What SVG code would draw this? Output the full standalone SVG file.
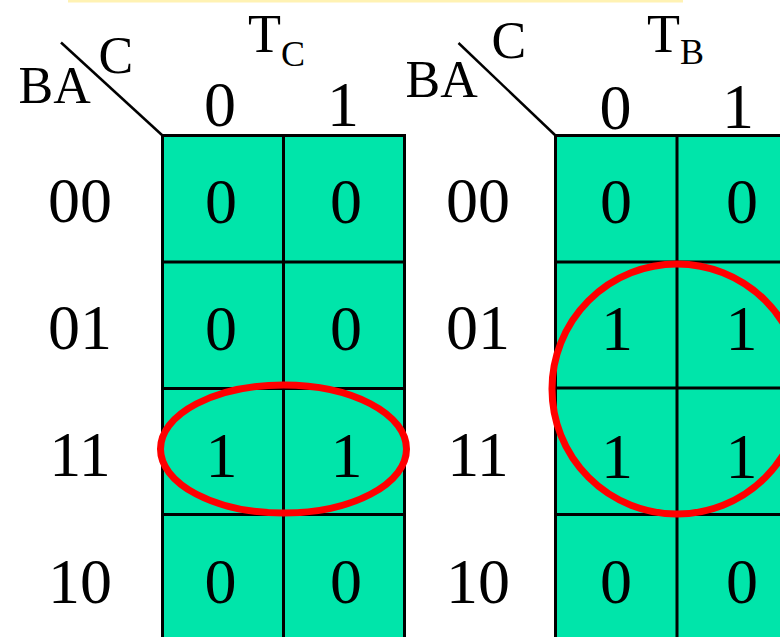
<svg xmlns="http://www.w3.org/2000/svg" width="780" height="637" viewBox="0 0 780 637">
<style>
.t{font-family:"Liberation Serif","Times New Roman",serif;fill:#000}
.big{font-size:64px;text-anchor:middle}
.hdr{font-size:52px}
.tt{font-size:54px}
.sub{font-size:36px}
.cell{fill:#00E5AA;stroke:#000;stroke-width:3}
.grid{stroke:#000;stroke-width:3;fill:none}
.diag{stroke:#000;stroke-width:2.5}
.loop{fill:none;stroke:#FF0000;stroke-width:7}
</style>
<rect x="0" y="0" width="780" height="637" fill="#fff"/>
<rect x="68" y="0" width="615" height="2.5" fill="#FFF2B3"/>
<g id="kmap-tc">
  <rect class="cell" x="162.5" y="135.5" width="242" height="520"/>
  <line class="grid" x1="283.5" y1="135.5" x2="283.5" y2="640"/>
  <line class="grid" x1="162.5" y1="262" x2="404.5" y2="262"/>
  <line class="grid" x1="162.5" y1="388.5" x2="404.5" y2="388.5"/>
  <line class="grid" x1="162.5" y1="514.5" x2="404.5" y2="514.5"/>
  <line class="diag" x1="61" y1="42.5" x2="162.5" y2="135.5"/>
  <text class="t hdr" x="18.5" y="103">BA</text>
  <text class="t hdr" x="98.5" y="72.5">C</text>
  <text class="t tt" x="248" y="52">T</text>
  <text class="t sub" x="281" y="65.5">C</text>
  <text class="t big" x="220" y="126">0</text>
  <text class="t big" x="343" y="125.5">1</text>
  <text class="t big" x="80" y="222">00</text>
  <text class="t big" x="80" y="349">01</text>
  <text class="t big" x="80" y="476">11</text>
  <text class="t big" x="80" y="603">10</text>
  <text class="t big" x="221" y="222.5">0</text>
  <text class="t big" x="346" y="222.5">0</text>
  <text class="t big" x="221" y="349.5">0</text>
  <text class="t big" x="346" y="349.5">0</text>
  <text class="t big" x="221.5" y="476.5">1</text>
  <text class="t big" x="346.5" y="476.5">1</text>
  <text class="t big" x="220.5" y="603">0</text>
  <text class="t big" x="346" y="603">0</text>
</g>
<g id="kmap-tb">
  <rect class="cell" x="555.5" y="135.5" width="243" height="520"/>
  <line class="grid" x1="677" y1="135.5" x2="677" y2="640"/>
  <line class="grid" x1="555.5" y1="262" x2="800" y2="262"/>
  <line class="grid" x1="555.5" y1="388" x2="800" y2="388"/>
  <line class="grid" x1="555.5" y1="514.5" x2="800" y2="514.5"/>
  <line class="diag" x1="458.5" y1="43" x2="555.5" y2="135.5"/>
  <text class="t hdr" x="405.5" y="97">BA</text>
  <text class="t hdr" x="491.5" y="57.5">C</text>
  <text class="t tt" x="647" y="52">T</text>
  <text class="t sub" x="680" y="64">B</text>
  <text class="t big" x="615.5" y="129">0</text>
  <text class="t big" x="738" y="127.5">1</text>
  <text class="t big" x="478" y="222">00</text>
  <text class="t big" x="478" y="349">01</text>
  <text class="t big" x="478" y="476">11</text>
  <text class="t big" x="478" y="603">10</text>
  <text class="t big" x="616" y="222.5">0</text>
  <text class="t big" x="742" y="222.5">0</text>
  <text class="t big" x="617" y="350">1</text>
  <text class="t big" x="741.5" y="350">1</text>
  <text class="t big" x="617" y="478">1</text>
  <text class="t big" x="741.5" y="478">1</text>
  <text class="t big" x="616" y="603">0</text>
  <text class="t big" x="742" y="603">0</text>
</g>
<g id="loops">
  <ellipse id="loop-tc" class="loop" cx="283.5" cy="449" rx="123" ry="64"/>
  <circle id="loop-tb" class="loop" cx="677" cy="389" r="125"/>
</g>
</svg>
